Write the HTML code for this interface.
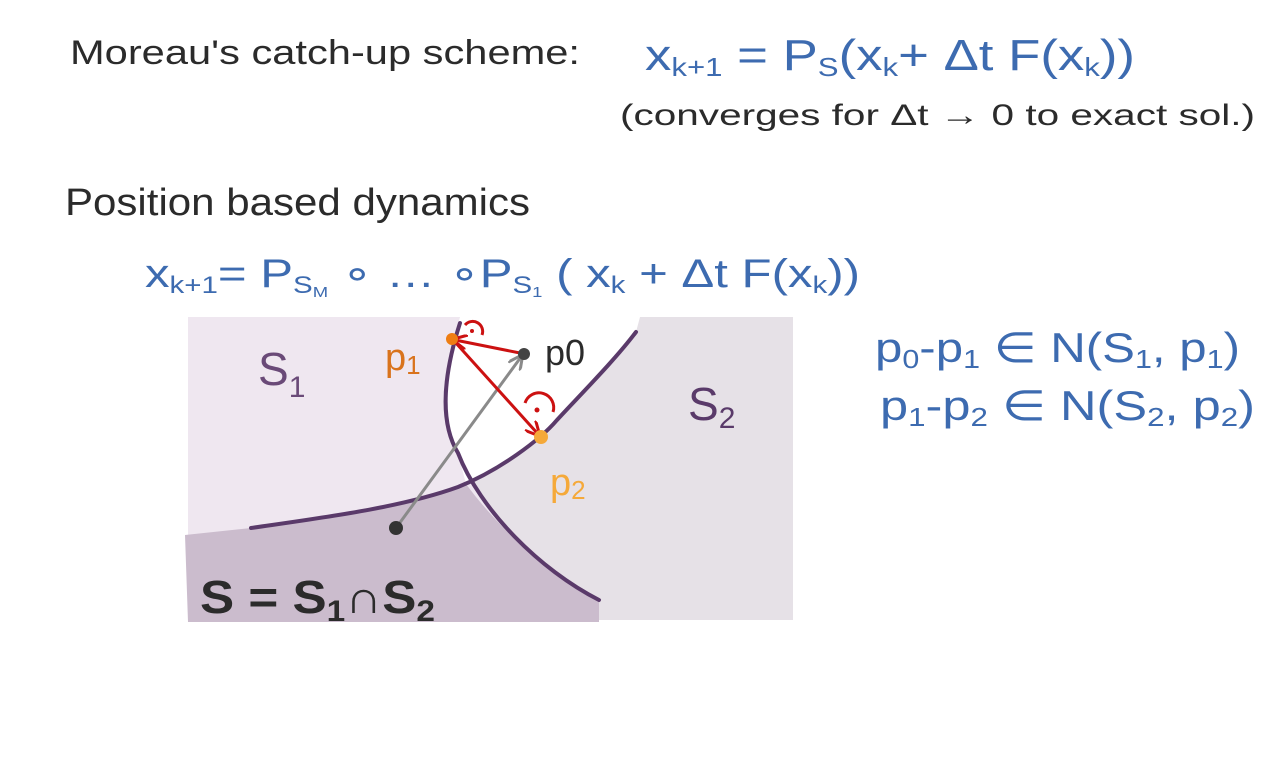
<!DOCTYPE html>
<html><head><meta charset="utf-8"><style>
html,body{margin:0;padding:0;background:#fff;}
svg{display:block;}
text{font-family:"Liberation Sans","DejaVu Sans",sans-serif;}
</style></head><body>
<svg width="1280" height="768" viewBox="0 0 1280 768">
<defs>
<marker id="ar" viewBox="0 0 10 10" refX="8" refY="5" markerWidth="5" markerHeight="5" orient="auto"><path d="M0,0 L10,5 L0,10" fill="none" stroke="#cc1111" stroke-width="2"/></marker>
<marker id="ag" viewBox="0 0 10 10" refX="8" refY="5" markerWidth="5" markerHeight="5" orient="auto"><path d="M0,0 L10,5 L0,10" fill="none" stroke="#8a8a8a" stroke-width="2"/></marker>
</defs>
<text x="70" y="64" font-size="34" fill="#2b2b2b" textLength="510" lengthAdjust="spacingAndGlyphs">Moreau's catch-up scheme:</text>
<text x="645" y="70" font-size="44" fill="#3d6bb0" textLength="490" lengthAdjust="spacingAndGlyphs">x<tspan font-size="26" dy="6">k+1</tspan><tspan dy="-6"> = P</tspan><tspan font-size="26" dy="6">S</tspan><tspan dy="-6">(x</tspan><tspan font-size="26" dy="6">k</tspan><tspan dy="-6">+ Δt F(x</tspan><tspan font-size="26" dy="6">k</tspan><tspan dy="-6">))</tspan></text>
<text x="620" y="125" font-size="30" fill="#2b2b2b" textLength="635" lengthAdjust="spacingAndGlyphs">(converges  for   Δt → 0  to exact sol.)</text>
<text x="65" y="215" font-size="38" fill="#2b2b2b" textLength="465" lengthAdjust="spacingAndGlyphs">Position  based  dynamics</text>
<text x="145" y="287" font-size="40" fill="#3d6bb0" textLength="715" lengthAdjust="spacingAndGlyphs">x<tspan font-size="24" dy="6">k+1</tspan><tspan dy="-6">= P</tspan><tspan font-size="24" dy="6">S</tspan><tspan font-size="15" dy="4">M</tspan><tspan dy="-10"> ∘ … ∘P</tspan><tspan font-size="24" dy="6">S</tspan><tspan font-size="15" dy="4">1</tspan><tspan dy="-10"> ( x</tspan><tspan font-size="24" dy="6">k</tspan><tspan dy="-6"> + Δt F(x</tspan><tspan font-size="24" dy="6">k</tspan><tspan dy="-6">))</tspan></text>
<text x="875" y="362" font-size="42" fill="#3d6bb0" textLength="365" lengthAdjust="spacingAndGlyphs">p<tspan font-size="26" dy="6">0</tspan><tspan dy="-6">-p</tspan><tspan font-size="26" dy="6">1</tspan><tspan dy="-6"> ∈ N(S</tspan><tspan font-size="26" dy="6">1</tspan><tspan dy="-6">, p</tspan><tspan font-size="26" dy="6">1</tspan><tspan dy="-6">)</tspan></text>
<text x="880" y="420" font-size="42" fill="#3d6bb0" textLength="375" lengthAdjust="spacingAndGlyphs">p<tspan font-size="26" dy="6">1</tspan><tspan dy="-6">-p</tspan><tspan font-size="26" dy="6">2</tspan><tspan dy="-6"> ∈ N(S</tspan><tspan font-size="26" dy="6">2</tspan><tspan dy="-6">, p</tspan><tspan font-size="26" dy="6">2</tspan><tspan dy="-6">)</tspan></text>

<g>
<rect x="188" y="317" width="605" height="303" fill="#e6e1e7"/>
<path d="M188,317 L460,317 C445,370 438,420 458,453 C480,510 540,570 599,600 L599,620 L188,620 Z" fill="#efe7f0"/>
<path d="M460,317 L640,317 L636,332 C615,360 580,395 557,420 C530,448 500,470 466,484 L458,453 C438,420 445,370 460,317 Z" fill="#ffffff"/>
<path d="M185,535 L251,528 C320,518 400,508 466,484 C500,530 550,575 599,600 L599,622 L188,622 Z" fill="#cbbccd"/>
</g>
<path d="M251,528 C320,518 400,508 458,487 C500,470 540,440 557,420 C580,395 615,360 636,332" fill="none" stroke="#5a3a6a" stroke-width="4" stroke-linecap="round"/>
<path d="M460,323 C445,370 438,420 458,453 C480,510 540,570 599,600" fill="none" stroke="#5a3a6a" stroke-width="4" stroke-linecap="round"/>
<line x1="396" y1="528" x2="521" y2="357" stroke="#8a8a8a" stroke-width="3" marker-end="url(#ag)"/>
<line x1="520" y1="353" x2="455" y2="340" stroke="#cc1111" stroke-width="3" marker-end="url(#ar)"/>
<line x1="455" y1="342" x2="538" y2="434" stroke="#cc1111" stroke-width="3" marker-end="url(#ar)"/>
<path d="M465,325 A10,10 0 0 1 482,335" fill="none" stroke="#cc1111" stroke-width="3"/>
<circle cx="472" cy="331" r="2" fill="#cc1111"/>
<path d="M525,403 A14,14 0 0 1 553,412" fill="none" stroke="#cc1111" stroke-width="3"/>
<circle cx="537" cy="410" r="2.5" fill="#cc1111"/>
<circle cx="396" cy="528" r="7" fill="#333"/>
<circle cx="524" cy="354" r="6" fill="#444"/>
<circle cx="452" cy="339" r="6" fill="#ee7d12"/>
<circle cx="541" cy="437" r="7" fill="#f5a93a"/>
<text x="545" y="365" font-size="36" fill="#2b2b2b">p0</text>
<text x="385" y="370" font-size="38" fill="#d9731c">p<tspan font-size="26" dy="4">1</tspan></text>
<text x="550" y="495" font-size="38" fill="#f5a93a">p<tspan font-size="26" dy="4">2</tspan></text>
<text x="258" y="385" font-size="46" fill="#6a4a78">S<tspan font-size="30" dy="12">1</tspan></text>
<text x="688" y="420" font-size="46" fill="#5a3a6a">S<tspan font-size="30" dy="8">2</tspan></text>
<text x="200" y="613" font-size="46" font-weight="bold" fill="#2b2b2b" textLength="235" lengthAdjust="spacingAndGlyphs">S = S<tspan font-size="30" dy="8">1</tspan><tspan dy="-8">∩S</tspan><tspan font-size="30" dy="8">2</tspan></text>
</svg>
</body></html>
